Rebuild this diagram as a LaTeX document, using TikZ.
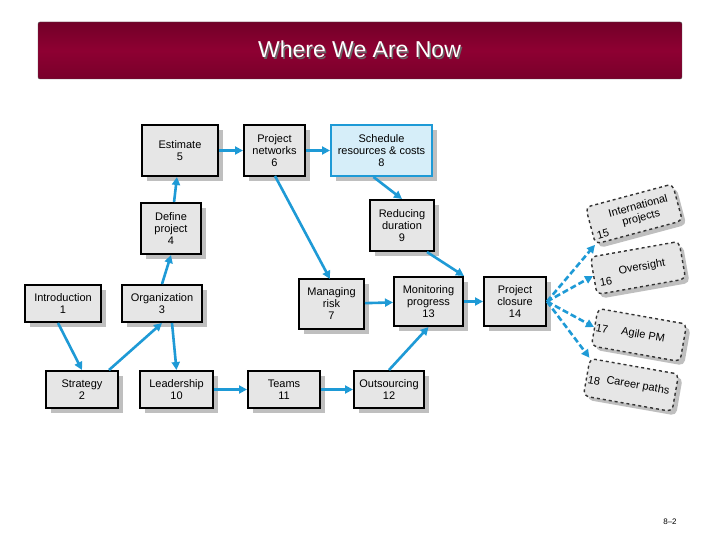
\documentclass[tikz,border=0pt]{standalone}
\usepackage{fontspec}
\setmainfont{Liberation Sans}
\usetikzlibrary{arrows.meta,shadows}
\definecolor{ln}{HTML}{1E9AD6}
\definecolor{bx}{HTML}{E6E6E6}
\definecolor{sb}{HTML}{D6EEF9}
\definecolor{tt}{HTML}{8E0032}
\begin{document}
\begin{tikzpicture}[x=1pt,y=-1pt,
  bk/.style={draw=black,line width=2pt,fill=bx,align=center,font=\fontsize{11}{12}\selectfont,
    inner sep=0pt,drop shadow={shadow xshift=5pt,shadow yshift=-5pt,fill=black!25,opacity=1}},
  tb/.style={draw=black!80,dashed,line width=1.4pt,fill=bx,rounded corners=5pt,minimum width=90pt,minimum height=38pt,
    font=\fontsize{11}{12}\selectfont,align=center,inner sep=2pt,
    drop shadow={shadow xshift=4pt,shadow yshift=-4pt,fill=black!25,opacity=1}},
  nm/.style={font=\fontsize{11}{12}\selectfont,inner sep=0pt},
  ar/.style={ln,line width=2.6pt,-{Triangle[length=8pt,width=8pt]}},
  da/.style={ar,dash pattern=on 6pt off 3pt}]
\useasboundingbox (0,0) rectangle (720,540);
\fill[white] (0,0) rectangle (720,540);
\shade[top color=tt!80!black,bottom color=tt!85!black,middle color=tt,draw=black!70,rounded corners=2pt] (38,22) rectangle (682,79);
\node[text=black!60,font=\fontsize{23}{24}\selectfont] at (361,51) {Where We Are Now};
\node[text=white,font=\fontsize{23}{24}\selectfont] (title) at (359.5,49.5) {Where We Are Now};
\newcommand\bxn[6]{\node[bk,minimum width=#4-#2,minimum height=#5-#3] (#1) at ({(#2+#4)/2},{(#3+#5)/2}) {#6};}
\bxn{est}{142}{125}{218}{176}{Estimate\\5}
\bxn{pn}{244}{125}{305}{176}{Project\\networks\\6}
\node[bk,draw=ln,fill=sb,minimum width=101,minimum height=51] (sch) at (381.5,150.5) {Schedule\\resources \& costs\\8};
\bxn{def}{141}{203}{201}{254}{Define\\project\\4}
\bxn{red}{370}{200}{434}{251}{Reducing\\duration\\9}
\bxn{intro}{25}{285}{101}{322}{Introduction\\1}
\bxn{org}{122}{285}{202}{322}{Organization\\3}
\bxn{risk}{299}{279}{364}{329}{Managing\\risk\\7}
\bxn{mon}{394}{277}{463}{326}{Monitoring\\progress\\13}
\bxn{clo}{484}{277}{546}{326}{Project\\closure\\14}
\bxn{str}{46}{371}{118}{408}{Strategy\\2}
\bxn{lead}{140}{371}{213}{408}{Leadership\\10}
\bxn{team}{248}{371}{320}{408}{Teams\\11}
\bxn{out}{354}{371}{424}{408}{Outsourcing\\12}
\node[tb,rotate=15] (t15) at (634,214) {\hspace*{12pt}International\\\hspace*{12pt}projects};
\node[nm,rotate=15] (n15) at (603,234) {15};
\node[tb,rotate=10] (t16) at (638,268) {\hspace*{8pt}Oversight};
\node[nm,rotate=10] (n16) at (606,282) {16};
\node[tb,rotate=-10] (t17) at (639,335) {\hspace*{8pt}Agile PM};
\node[nm,rotate=-10] (n17) at (602,329) {17};
\node[tb,rotate=-10] (t18) at (631,385) {\hspace*{14pt}Career paths};
\node[nm,rotate=-10] (n18) at (594,381) {18};
\node[font=\fontsize{8}{9}\selectfont] (pg) at (670,522) {8–2};
\draw[ar] (def) -- (est);
\draw[ar] (est) -- (pn);
\draw[ar] (pn) -- (sch);
\draw[ar] (sch.south) ++(-8,0) -- (red.north);
\draw[ar] (275,176) -- (330,279);
\draw[ar] (red.south east) ++(-8,0) -- (mon.north east);
\draw[ar] (risk) -- (mon);
\draw[ar] (mon) -- (clo);
\draw[ar] (org.north) -- (def.south);
\draw[ar] (intro.south) ++(-5,0) -- (str.north);
\draw[ar] (str.north east) ++(-10,0) -- (org.south);
\draw[ar] (org.south) ++(10,0) -- (lead.north);
\draw[ar] (lead) -- (team);
\draw[ar] (team) -- (out);
\draw[ar] (out.north) -- (mon.south);
\draw[da] (clo.east) -- (t15.south west);
\draw[da] (clo.east) -- (t16.west);
\draw[da] (clo.east) -- (t17.west);
\draw[da] (clo.east) -- (t18.north west);
\end{tikzpicture}
\end{document}
